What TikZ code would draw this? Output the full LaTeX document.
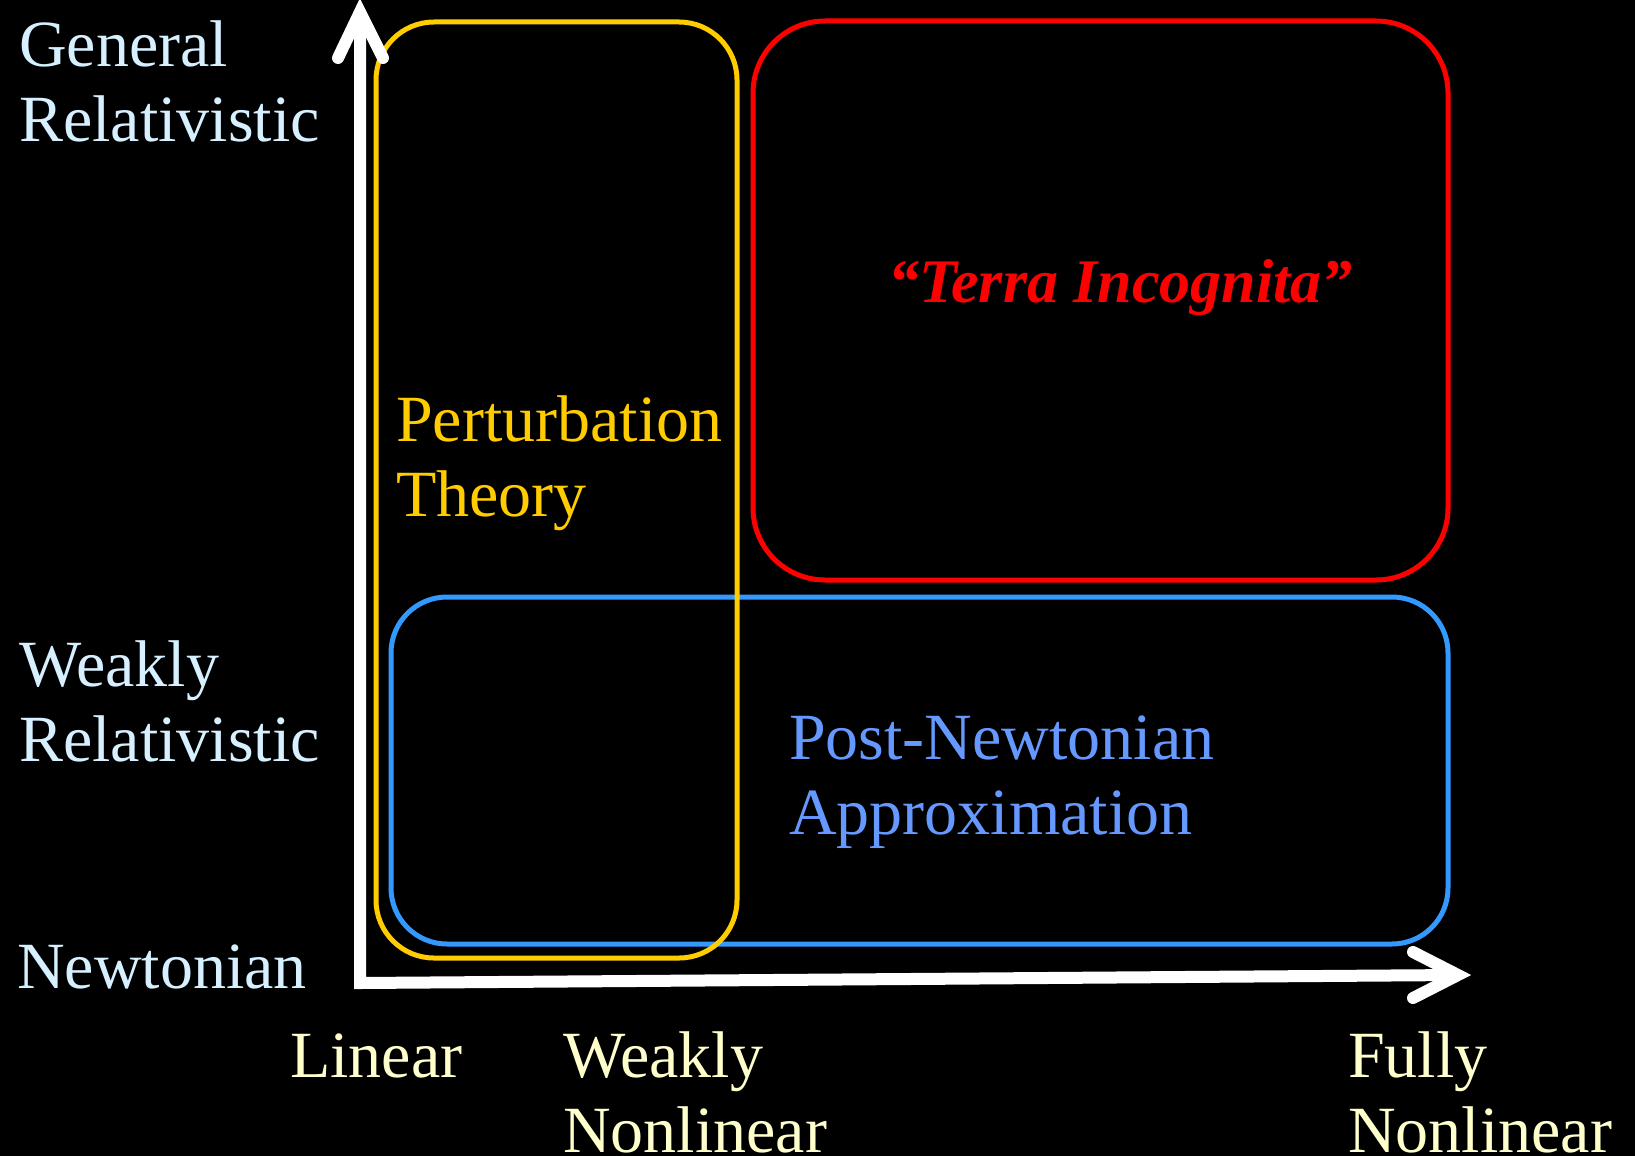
\documentclass[tikz,border=0pt]{standalone}
\usepackage{fontspec}
\setmainfont{Liberation Serif}
\definecolor{ylab}{HTML}{D6F0FF}
\definecolor{xlab}{HTML}{FFFFCC}
\definecolor{ptc}{HTML}{FFCC00}
\definecolor{pnbox}{HTML}{3399FF}
\definecolor{pntxt}{HTML}{6699FF}
\definecolor{terra}{HTML}{FF0000}
\tikzset{
  lab/.style={inner sep=0pt, anchor=base west, align=left, font=\fontsize{66}{75}\selectfont},
  axisline/.style={draw=white, line width=12pt, line join=miter},
  tip/.style={draw=white, line width=12pt, line cap=round, line join=miter},
  region/.style={line width=5pt},
}
\begin{document}
\begin{tikzpicture}[x=1pt,y=-1pt]
\fill[black] (0,0) rectangle (1635,1156);
\useasboundingbox (0,0) rectangle (1635,1156);
% regions
\draw[region, draw=terra, rounded corners=72pt] (753,21) rectangle (1448,580);
\draw[region, draw=pnbox, rounded corners=56pt] (391,597) rectangle (1448,944);
\draw[region, draw=ptc, rounded corners=58pt] (376,22) rectangle (737,958);
% axes
\coordinate (ytip) at (360,12);
\coordinate (origin) at (360,983);
\coordinate (xtip) at (1458,975);
\draw[axisline] (ytip) -- (origin) -- (xtip);
\draw[tip] (338,58) -- (ytip) -- (383,58);
\draw[tip] (1413,952) -- (xtip) -- (1413,998);
% labels (anchor = baseline of last line)
\node[lab, text=ylab] (gr) at (19,141) {General\\Relativistic};
\node[lab, text=ylab] (wr) at (19,761) {Weakly\\Relativistic};
\node[lab, text=ylab] (nw) at (17,988) {Newtonian};
\node[lab, text=xlab] (lin) at (290,1077) {Linear};
\node[lab, text=xlab] (wnl) at (563,1152) {Weakly\\Nonlinear};
\node[lab, text=xlab] (fnl) at (1348,1152) {Fully\\Nonlinear};
\node[lab, text=ptc] (pt) at (396,516) {Perturbation\\Theory};
\node[lab, text=pntxt] (pn) at (789,834) {Post-Newtonian\\Approximation};
\node[inner sep=0pt, anchor=base west, text=terra, font=\fontsize{62}{70}\selectfont\bfseries\itshape] (ti) at (888,302) {“Terra Incognita”};
\end{tikzpicture}
\end{document}
